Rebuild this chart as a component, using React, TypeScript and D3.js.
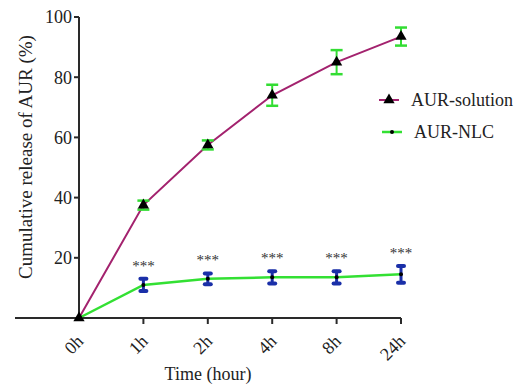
import React from "react";
import * as d3 from "d3";

const categories = ["0h", "1h", "2h", "4h", "8h", "24h"];
const solutionMean = [0, 37.5, 57.5, 74, 85, 93.5];
const solutionErr = [0, 1.5, 1.5, 3.5, 4, 3];
const nlcMean = [0, 11, 13, 13.5, 13.5, 14.5];
const nlcErr = [0, 2, 1.8, 2, 2, 2.8];
const starLabels = ["", "***", "***", "***", "***", "***"];
const yTicks = [20, 40, 60, 80, 100];

const W = 518, H = 385;
const FONT = '"Liberation Serif", "DejaVu Serif", serif';
const ts = { fontFamily: FONT };

export default function App() {
  const x = d3.scalePoint<string>().domain(categories).range([79, 401]);
  const y = d3.scaleLinear().domain([0, 100]).range([318, 17]);
  const line = d3.line<number>().x((_, i) => x(categories[i])!).y((d) => y(d));
  const axisColor = "#2a2a2a";
  const tri = d3.symbol().type(d3.symbolTriangle).size(55)()!;

  return (
    <svg width={W} height={H} style={{ position: "absolute", left: 0, top: 0, background: "#fff" }}>
      {/* axes */}
      <line x1={15} x2={401} y1={y(0)} y2={y(0)} stroke={axisColor} strokeWidth={2} />
      <line x1={79} x2={79} y1={y(100)} y2={y(0)} stroke={axisColor} strokeWidth={2} />
      {yTicks.map((t) => (
        <g key={t}>
          <line x1={74} x2={79} y1={y(t)} y2={y(t)} stroke={axisColor} strokeWidth={2} />
          <text x={72} y={y(t)} dy="0.35em" textAnchor="end" fontSize={18} fill="#222" style={ts}>{t}</text>
        </g>
      ))}
      {categories.map((c) => (
        <g key={c}>
          {c !== "0h" && <line x1={x(c)} x2={x(c)} y1={y(0)} y2={y(0) + 6} stroke={axisColor} strokeWidth={2} />}
          <text transform={`translate(${x(c)! + 1},${y(0) + 20}) rotate(-45)`} textAnchor="end" dy="0.35em" fontSize={18} fill="#222" style={ts}>{c}</text>
        </g>
      ))}
      <text x={208} y={380} textAnchor="middle" fontSize={18} fill="#222" style={ts}>Time (hour)</text>
      <text transform={`translate(32,157) rotate(-90)`} textAnchor="middle" fontSize={19} fill="#222" style={ts}>Cumulative release of AUR (%)</text>

      {/* solution line */}
      <path d={line(solutionMean)!} fill="none" stroke="#A3226E" strokeWidth={2} />
      {/* nlc line */}
      <path d={line(nlcMean)!} fill="none" stroke="#33E033" strokeWidth={2.5} />

      {/* solution error bars (green) */}
      {solutionMean.map((m, i) => solutionErr[i] > 0 && (
        <g key={"se" + i} stroke="#33DD33" strokeWidth={2}>
          <line x1={x(categories[i])} x2={x(categories[i])} y1={y(m - solutionErr[i])} y2={y(m + solutionErr[i])} />
          <line x1={x(categories[i])! - 6} x2={x(categories[i])! + 6} y1={y(m - solutionErr[i])} y2={y(m - solutionErr[i])} strokeWidth={2.5} />
          <line x1={x(categories[i])! - 6} x2={x(categories[i])! + 6} y1={y(m + solutionErr[i])} y2={y(m + solutionErr[i])} strokeWidth={2.5} />
        </g>
      ))}
      {solutionMean.map((m, i) => (
        <path key={"st" + i} d={tri} transform={`translate(${x(categories[i])},${y(m)})`} fill="#000" />
      ))}

      {/* nlc error bars (blue) */}
      {nlcMean.map((m, i) => nlcErr[i] > 0 && (
        <g key={"ne" + i} stroke="#1A2FA8" strokeLinecap="round">
          <line x1={x(categories[i])} x2={x(categories[i])} y1={y(m - nlcErr[i])} y2={y(m + nlcErr[i])} strokeWidth={3} />
          <line x1={x(categories[i])! - 3} x2={x(categories[i])! + 3} y1={y(m - nlcErr[i])} y2={y(m - nlcErr[i])} strokeWidth={4} />
          <line x1={x(categories[i])! - 3} x2={x(categories[i])! + 3} y1={y(m + nlcErr[i])} y2={y(m + nlcErr[i])} strokeWidth={4} />
        </g>
      ))}
      {nlcMean.map((m, i) => (
        <circle key={"nc" + i} cx={x(categories[i])} cy={y(m)} r={2} fill="#000" />
      ))}
      {starLabels.map((s, i) => s && (
        <text key={"s" + i} x={x(categories[i])} y={y(nlcMean[i] + nlcErr[i]) - 8} textAnchor="middle" fontSize={15} fill="#333" style={ts}>{s}</text>
      ))}

      {/* legend */}
      <line x1={379} x2={399} y1={100} y2={100} stroke="#A3226E" strokeWidth={2} />
      <path d={tri} transform="translate(389,100)" fill="#000" />
      <text x={411} y={100} dy="0.35em" fontSize={18} fill="#222" style={ts}>AUR-solution</text>
      <line x1={382} x2={402} y1={132} y2={132} stroke="#33E033" strokeWidth={2.5} />
      <circle cx={392} cy={132} r={2} fill="#000" />
      <text x={414} y={132} dy="0.35em" fontSize={18} fill="#222" style={ts}>AUR-NLC</text>
    </svg>
  );
}
